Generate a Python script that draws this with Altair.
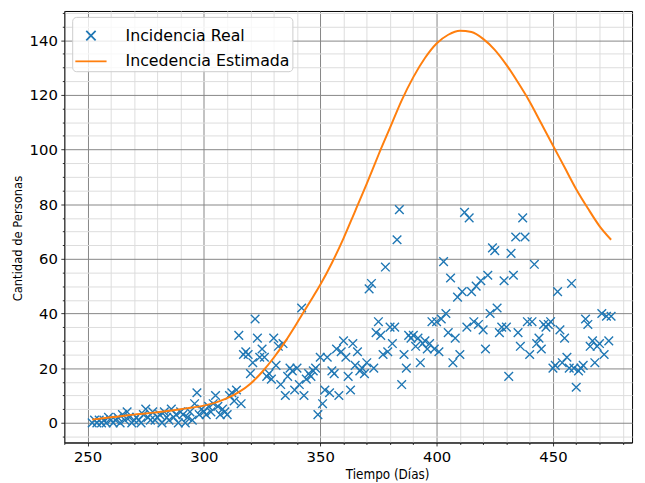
import altair as alt
import pandas as pd

series_names = ["Incidencia Real", "Incedencia Estimada"]

# Observed daily incidence (one value per day, 252..475)
real_days = list(range(252, 476))
real_values = [
    0, 1, 0, 1, 0, 1, 0, 2, 1, 0,        # 252-261
    1, 2, 0, 3, 1, 4, 2, 0, 1, 2,        # 262-271
    1, 0, 3, 5, 2, 1, 4, 1, 2, 3,        # 272-281
    0, 4, 2, 1, 5, 2, 3, 0, 4, 3,        # 282-291
    0, 2, 4, 1, 7, 11, 3, 5, 4, 3,       # 292-301
    6, 4, 7, 10, 6, 3, 5, 4, 3, 10,      # 302-311
    11, 8, 12, 32, 7, 25, 26, 25, 18, 22,   # 312-321
    38, 31, 24, 27, 24, 17, 18, 16, 31, 21, # 322-331
    28, 14, 29, 10, 17, 20, 19, 12, 20, 14, # 332-341
    42, 10, 16, 18, 17, 19, 20, 3, 24, 7,   # 342-351
    12, 24, 11, 19, 18, 27, 10, 26, 30, 24, # 352-361
    17, 12, 29, 21, 26, 19, 20, 18, 22, 49, # 362-371
    51, 20, 33, 37, 32, 25, 57, 26, 35, 29, # 372-381
    35, 67, 78, 14, 25, 20, 32, 31, 32, 28, # 382-391
    31, 22, 29, 30, 27, 29, 37, 27, 37, 26, # 392-401
    38, 59, 40, 33, 53, 22, 31, 46, 25, 48, # 402-411
    77, 35, 75, 48, 37, 50, 36, 52, 34, 27, # 412-421
    54, 40, 64, 63, 42, 33, 35, 52, 35, 17, # 422-431
    62, 54, 68, 33, 28, 75, 68, 37, 25, 37, # 432-441
    58, 29, 31, 27, 36, 35, 36, 37, 20, 21, # 442-451
    48, 34, 22, 31, 24, 20, 51, 20, 13, 19, # 452-461
    20, 21, 38, 36, 28, 30, 22, 28, 29, 40, # 462-471
    25, 39, 30, 39,                          # 472-475
]

# Estimated incidence curve
est_days = [252, 255, 260, 265, 270, 275, 280, 285, 290, 295, 300, 305, 310,
            315, 320, 325, 330, 335, 340, 345, 350, 355, 360, 365, 370, 375,
            380, 385, 390, 395, 400, 405, 410, 415, 420, 425, 430, 435, 440,
            445, 450, 455, 460, 465, 470, 475]
est_values = [1.2, 1.5, 2.0, 2.5, 3.0, 3.4, 3.9, 4.4, 5.0, 5.6, 6.3, 7.4, 9.0,
              11.2, 14.3, 18.6, 23.8, 29.8, 36.5, 43.5, 50.5, 58.5, 67.5, 77.5,
              87.5, 98.0, 108.0, 118.0, 126.5, 133.5, 138.8, 142.0, 143.5,
              143.0, 140.5, 136.5, 131.0, 124.5, 117.5, 109.5, 101.5, 93.5,
              85.5, 78.5, 72.0, 67.0]

x_ticks = list(range(240, 481, 10))
y_ticks = list(range(-5, 151, 5))

real_df = pd.DataFrame({"day": real_days, "value": real_values, "series": series_names[0]})
est_df = pd.DataFrame({"day": est_days, "value": est_values, "series": series_names[1]})

X_PATH = "M-0.3,-0.3L0.3,0.3M-0.3,0.3L0.3,-0.3"
FONT = "DejaVu Sans"
TITLE_FONT = "DejaVu Sans Condensed, DejaVu Sans"

color_scale = alt.Scale(domain=series_names, range=["#1f77b4", "#ff7f0e"])
shape_scale = alt.Scale(domain=series_names, range=[X_PATH, "stroke"])

x_axis = alt.Axis(
    values=x_ticks,
    labelExpr="datum.value % 50 == 0 ? datum.label : ''",
    labelOverlap=False,
    labelFlush=False,
    format="d",
    tickSize={"condition": {"test": "datum.value % 50 == 0", "value": 3.5}, "value": 2},
    gridColor={"condition": {"test": "datum.value % 50 == 0", "value": "#858585"}, "value": "#dcdcdc"},
    gridWidth=1,
    title=None,
)

y_axis = alt.Axis(
    values=y_ticks,
    labelExpr="datum.value % 20 == 0 ? datum.label : ''",
    labelOverlap=False,
    labelFlush=False,
    format="d",
    tickSize={"condition": {"test": "datum.value % 20 == 0", "value": 3.5}, "value": 2},
    gridColor={"condition": {"test": "datum.value % 20 == 0", "value": "#858585"}, "value": "#dcdcdc"},
    gridWidth=1,
    title="Cantidad de Personas",
    titleFont=TITLE_FONT,
    titleFontSize=13,
    titleFontWeight="normal",
    titleColor="black",
    titleAlign="center",
    titleX=-47,
    titleY=230,
    titleBaseline="middle",
    titleAngle=270,
)

x_enc = alt.X("day:Q", scale=alt.Scale(domain=[240, 484], nice=False, zero=False), axis=x_axis)
y_enc = alt.Y("value:Q", scale=alt.Scale(domain=[-7.2, 150.7], nice=False, zero=False), axis=y_axis)

legend = alt.Legend(
    title=None,
    orient="none",
    legendX=8,
    legendY=6,
    fillColor="rgba(255,255,255,0.8)",
    strokeColor="#cccccc",
    cornerRadius=4,
    padding=2,
    labelFont=FONT,
    labelFontSize=16,
    labelColor="black",
    labelLimit=300,
    labelOffset=18,
    symbolSize=1000,
    symbolStrokeWidth=1.8,
    rowPadding=0,
)

points = alt.Chart(real_df).mark_point(filled=False, size=850, strokeWidth=1.4, opacity=1).encode(
    x=x_enc,
    y=y_enc,
    color=alt.Color("series:N", scale=color_scale, legend=legend),
    shape=alt.Shape("series:N", scale=shape_scale, legend=legend),
)

line = alt.Chart(est_df).mark_line(strokeWidth=2, interpolate="monotone").encode(
    x=x_enc,
    y=y_enc,
    color=alt.Color("series:N", scale=color_scale, legend=legend),
)

chart = alt.layer(points, line).properties(
    width=575,
    height=437,
    autosize=alt.AutoSizeParams(type="none"),
    padding={"left": 57, "top": 0, "right": 5, "bottom": 38},
    title=alt.TitleParams(
        "Tiempo (Días)",
        orient="bottom",
        anchor="middle",
        dx=40,
        offset=4,
        font=TITLE_FONT,
        fontSize=13.5,
        fontWeight="normal",
        color="black",
    ),
).configure_view(
    stroke="black", strokeWidth=1
).configure_axis(
    labelFont=FONT,
    labelFontSize=15,
    labelColor="black",
    labelPadding=3.5,
    tickColor="black",
    tickWidth=0.8,
    domainColor="black",
    domainWidth=0.8,
)

chart.save("out.html", embed_options={"renderer": "svg", "actions": False})
